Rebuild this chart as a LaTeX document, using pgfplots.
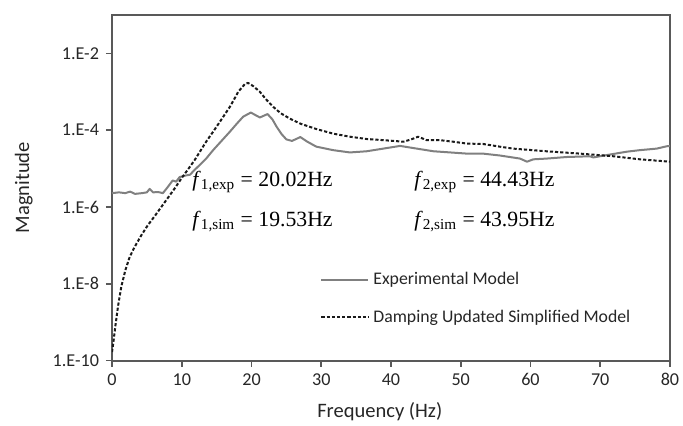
\documentclass[border=0pt]{standalone}
\usepackage{fontspec}
\setmainfont{Carlito}
\newfontfamily\tnr{Liberation Serif}
\usepackage{pgfplots}
\pgfplotsset{compat=1.18}
\definecolor{framec}{HTML}{595959}
\definecolor{expc}{HTML}{808080}
\definecolor{simc}{HTML}{1A1A1A}
\definecolor{txtc}{HTML}{262626}
\begin{document}
\begin{tikzpicture}
\begin{axis}[
  scale only axis, width=279bp, height=172.75bp,
  ymode=log, log basis y=10,
  xmin=0, xmax=80, ymin=1e-10, ymax=1e-1,
  xtick={0,10,...,80},
  ytick={1e-10,1e-8,1e-6,1e-4,1e-2},
  yticklabels={1.E-10,1.E-8,1.E-6,1.E-4,1.E-2},
  minor tick num=0, yminorticks=false,
  tick align=outside, major tick length=3bp,
  xtick pos=bottom, ytick pos=left,
  axis line style={framec, line width=1bp},
  tick style={framec, line width=0.8bp},
  ticklabel style={font=\fontsize{9.1}{11}\selectfont, text=txtc},
  /pgf/number format/assume math mode=true,
  xlabel={Frequency (Hz)}, ylabel={Magnitude},
  label style={font=\fontsize{10.3}{12}\selectfont, text=txtc},
  xlabel style={at={(axis description cs:0.48,-0.149)}, anchor=center},
  ylabel style={at={(axis description cs:-0.158,0.5)}, anchor=center},
  legend style={at={(axis description cs:0.3728,0.279)}, anchor=north west,
    draw=none, fill=none, font=\fontsize{8.9}{10.7}\selectfont, text=txtc,
    row sep=7bp, inner xsep=0pt},
  legend cell align=left,
  legend image code/.code={\draw[#1] (0bp,0bp) -- (23.5bp,0bp);},
]
\addplot[expc, line width=1bp, line join=round] table {
x y
0 2.29e-6
1.0 2.40e-6
1.9 2.29e-6
2.6 2.51e-6
3.3 2.19e-6
4.3 2.29e-6
5.0 2.40e-6
5.4 2.95e-6
5.9 2.40e-6
6.6 2.45e-6
7.3 2.29e-6
8.0 3.31e-6
8.7 4.90e-6
9.2 4.57e-6
9.7 6.03e-6
10.6 6.61e-6
11.2 6.92e-6
11.7 8.71e-6
12.5 1.20e-5
13.5 1.82e-5
14.5 3.02e-5
15.7 5.25e-5
16.9 9.12e-5
17.9 1.48e-4
18.8 2.24e-4
19.9 2.88e-4
20.5 2.51e-4
21.2 2.14e-4
22.3 2.63e-4
23.0 1.91e-4
23.6 1.23e-4
24.3 7.94e-5
25.0 5.75e-5
25.8 5.25e-5
27.0 6.61e-5
28.0 5.01e-5
29.3 3.72e-5
31.7 3.02e-5
34.1 2.63e-5
36.5 2.82e-5
38.9 3.31e-5
41.3 3.89e-5
43.7 3.31e-5
46.1 2.82e-5
48.5 2.63e-5
50.9 2.45e-5
53.2 2.45e-5
55.6 2.19e-5
58.5 1.82e-5
59.5 1.51e-5
60.4 1.74e-5
62.3 1.82e-5
65.2 2.00e-5
68.5 2.09e-5
69.0 1.95e-5
70.9 2.24e-5
73.8 2.75e-5
75.7 3.02e-5
78.1 3.31e-5
79.5 3.80e-5
80 3.89e-5
};
\addlegendentry{Experimental Model}
\addplot[simc, line width=1bp, dash pattern=on 1.6bp off 1bp, line join=round] table {
x y
0 1.66e-10
0.19 2.88e-10
0.47 7.59e-10
0.86 2.57e-9
1.33 8.32e-9
1.91 2.24e-8
2.54 5.01e-8
3.25 9.12e-8
4.2 1.82e-7
5.16 3.39e-7
6.12 5.75e-7
7.07 1.00e-6
8.03 1.74e-6
8.98 3.02e-6
9.94 5.50e-6
10.9 9.55e-6
11.85 1.66e-5
12.6 2.75e-5
13.5 5.01e-5
14.5 9.12e-5
15.7 1.91e-4
16.9 4.07e-4
17.5 6.31e-4
18.1 1.00e-3
18.8 1.41e-3
19.1 1.62e-3
19.5 1.70e-3
19.9 1.55e-3
20.3 1.38e-3
21.2 1.00e-3
22.1 6.31e-4
23.1 4.07e-4
24.2 2.75e-4
25.5 2.00e-4
27.0 1.48e-4
29.3 1.07e-4
31.7 8.13e-5
34.1 6.76e-5
36.5 5.89e-5
38.9 5.50e-5
41.8 5.01e-5
42.9 5.75e-5
43.9 6.76e-5
45.1 5.50e-5
47.0 5.50e-5
48.9 5.01e-5
50.9 4.47e-5
53.2 4.37e-5
55.6 3.72e-5
57.5 3.31e-5
62.3 2.82e-5
67.1 2.45e-5
71.9 2.09e-5
75.7 1.74e-5
80 1.51e-5
};
\addlegendentry{Damping Updated Simplified Model}
\coordinate (SW) at (rel axis cs:0,0);
\coordinate (NE) at (rel axis cs:1,1);
\node[anchor=base west, font=\tnr\fontsize{10.9}{13}\selectfont, text=black, inner sep=0pt] at (axis description cs:0.1434,0.5036) {\textit{f}\textsubscript{1,exp} = 20.02Hz};
\node[anchor=base west, font=\tnr\fontsize{10.9}{13}\selectfont, text=black, inner sep=0pt] at (axis description cs:0.1434,0.3893) {\textit{f}\textsubscript{1,sim} = 19.53Hz};
\node[anchor=base west, font=\tnr\fontsize{10.9}{13}\selectfont, text=black, inner sep=0pt] at (axis description cs:0.541,0.5036) {\textit{f}\textsubscript{2,exp} = 44.43Hz};
\node[anchor=base west, font=\tnr\fontsize{10.9}{13}\selectfont, text=black, inner sep=0pt] at (axis description cs:0.541,0.3893) {\textit{f}\textsubscript{2,sim} = 43.95Hz};
\end{axis}
\pgfresetboundingbox
\path ([xshift=-56bp,yshift=-32.75bp]SW) rectangle ([xshift=6.5bp,yshift=7.5bp]NE);
\end{tikzpicture}
\end{document}
